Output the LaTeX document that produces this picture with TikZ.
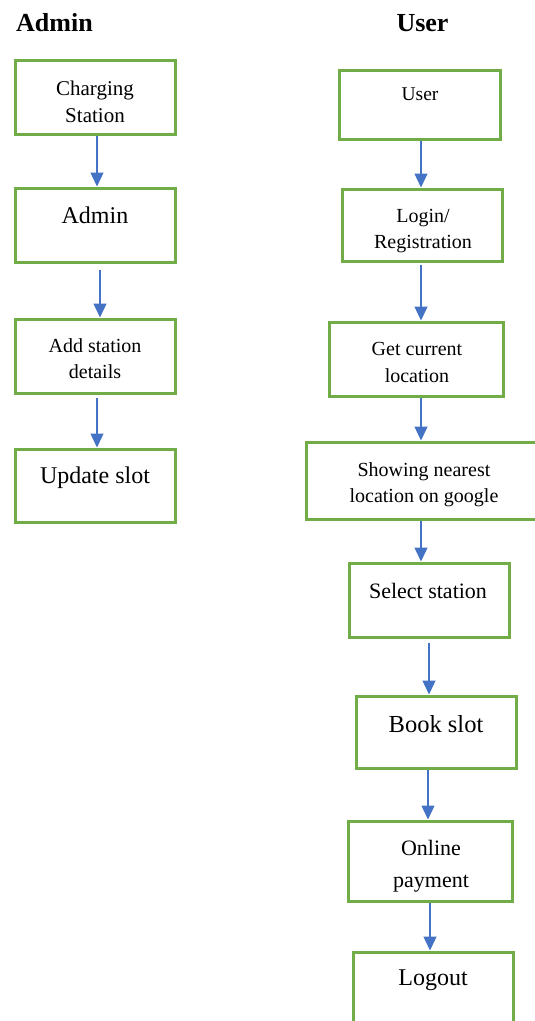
\documentclass[tikz,border=0pt]{standalone}
\usepackage{fontspec}
\setmainfont{Liberation Serif}
\usetikzlibrary{arrows.meta}
\definecolor{boxgreen}{HTML}{70AD47}
\definecolor{arrblue}{HTML}{4472C4}
\tikzset{
  flowbox/.style={draw=boxgreen, line width=3pt, inner sep=0pt, minimum width=160pt, minimum height=74pt},
  lbl/.style={inner sep=0pt, align=center, anchor=base},
  head/.style={inner sep=0pt, anchor=base, font=\fontsize{26}{30}\selectfont\bfseries},
  arr/.style={draw=arrblue, line width=1.4pt, -{Triangle[length=14pt,width=13pt]}},
}
\newcommand{\fs}[2]{\fontsize{#1}{#2}\selectfont}
\begin{document}
\begin{tikzpicture}[x=1pt,y=-1pt]
\useasboundingbox (0,0) rectangle (535,1021);
% headings
\node[head, anchor=base west] (hadmin) at (16,31) {Admin};
\node[head] (huser) at (422.5,31) {User};
% admin column boxes
\node[flowbox] (cs)  at (95,97) {};
\node[flowbox] (adm) at (95,225) {};
\node[flowbox] (add) at (95,356) {};
\node[flowbox, minimum height=73pt] (upd) at (95,485.5) {};
% admin texts (two-line nodes anchored at last baseline)
\node[lbl, font=\fs{21}{27}] (tcs) at (95,122) {Charging\\Station};
\node[lbl, font=\fs{24}{28}] (tadm) at (95,223) {Admin};
\node[lbl, font=\fs{20}{26}] (tadd) at (95,378) {Add station\\details};
\node[lbl, font=\fs{24}{28}] (tupd) at (95,483) {Update slot};
% user column boxes
\node[flowbox, minimum width=161pt, minimum height=69pt] (usr) at (419.5,104.5) {};
\node[flowbox, minimum height=72pt] (log) at (422,225) {};
\node[flowbox, minimum width=174pt] (gcl) at (416,359) {};
\node[flowbox, minimum width=239pt, minimum height=77pt] (snl) at (425.5,480.5) {};
\node[flowbox] (sel) at (429,600) {};
\node[flowbox, minimum height=72pt] (book) at (436,732) {};
\node[flowbox, minimum width=164pt, minimum height=80pt] (pay) at (430,861) {};
\node[flowbox, minimum height=88pt] (lgo) at (433,996) {};
% user texts
\node[lbl, font=\fs{19.5}{24}] (tusr) at (420,100) {User};
\node[lbl, font=\fs{20}{26}] (tlog) at (423,248) {Login/\\Registration};
\node[lbl, font=\fs{20}{27}] (tgcl) at (417,382) {Get current\\location};
\node[lbl, font=\fs{20}{26}] (tsnl) at (424,502) {Showing nearest\\location on google};
\node[lbl, font=\fs{22}{26}] (tsel) at (428,598) {Select station};
\node[lbl, font=\fs{24.5}{28}] (tbook) at (436,732) {Book slot};
\node[lbl, font=\fs{22}{32}] (tpay) at (431,887) {Online\\payment};
\node[lbl, font=\fs{24}{28}] (tlgo) at (433,985) {Logout};
% admin arrows
\draw[arr] ([xshift=2pt]cs.south) -- ([xshift=2pt]adm.north);
\draw[arr, shorten <=6pt] ([xshift=5pt]adm.south) -- ([xshift=5pt]add.north);
\draw[arr, shorten <=3pt] ([xshift=2pt]add.south) -- ([xshift=2pt]upd.north);
% user arrows
\draw[arr] ([xshift=1.5pt]usr.south) -- ([xshift=-1pt]log.north);
\draw[arr, shorten <=2pt] ([xshift=-1pt]log.south) -- ([xshift=5pt]gcl.north);
\draw[arr] ([xshift=5pt]gcl.south) -- ([xshift=-4.5pt]snl.north);
\draw[arr] ([xshift=-4.5pt]snl.south) -- ([xshift=-8pt]sel.north);
\draw[arr, shorten <=4pt] ([xshift=0pt]sel.south) -- ([xshift=-7pt]book.north);
\draw[arr] ([xshift=-8pt]book.south) -- ([xshift=-2pt]pay.north);
\draw[arr] ([xshift=0pt]pay.south) -- ([xshift=-3pt]lgo.north);
\end{tikzpicture}
\end{document}
